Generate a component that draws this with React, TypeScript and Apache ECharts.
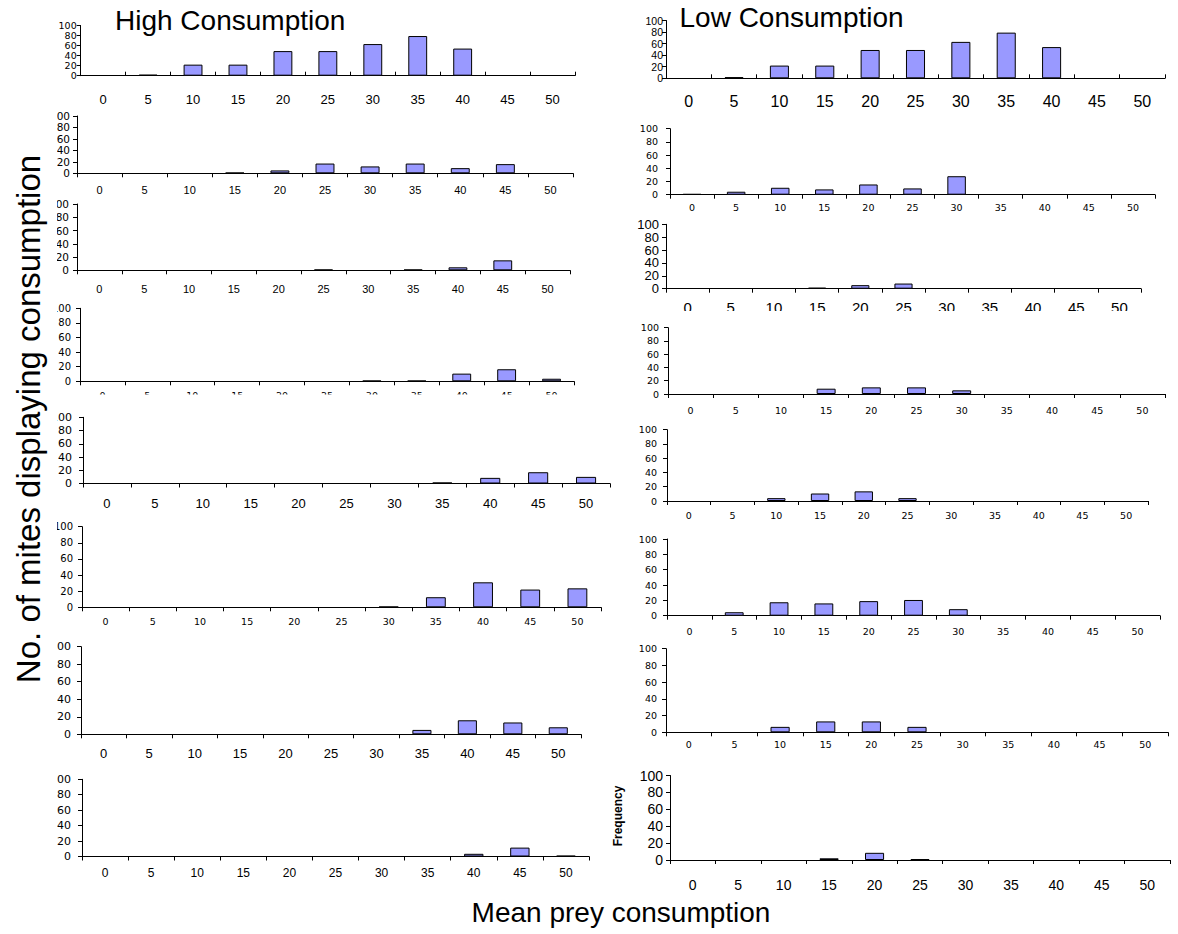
import React, { useEffect, useRef } from "react";
import * as echarts from "echarts";

// ---------- data ----------
const categories = ["0", "5", "10", "15", "20", "25", "30", "35", "40", "45", "50"];
const yTicks = { min: 0, max: 100, step: 20 };

const highC1 = [0, 2, 22, 22, 49, 49, 63, 79, 54, 0, 0];
const highC2 = [0, 0, 0, 1, 5, 17, 12, 17, 9, 16, 0];
const highC3 = [0, 0, 0, 0, 0, 1, 0, 1, 4.5, 15, 0];
const highC4 = [0, 0, 0, 0, 0, 0, 0.8, 0.8, 10.5, 16.5, 3.5];
const highC5 = [0, 0, 0, 0, 0, 0, 0, 1.5, 8.5, 17, 10];
const highC6 = [0, 0, 0, 0, 0, 0, 0.8, 12.5, 31, 22, 23.5];
const highC7 = [0, 0, 0, 0, 0, 0, 0, 5, 16, 13.5, 8];
const highC8 = [0, 0, 0, 0, 0, 0, 0, 0, 3.5, 11.5, 1];

const lowC1 = [0, 2, 22, 22, 49, 49, 63, 79, 54, 0, 0];
const lowC2 = [1, 4.5, 10.5, 8, 15.5, 9.5, 28, 0, 0, 0, 0];
const lowC3 = [0, 0, 0, 1.5, 5.5, 8, 0, 0, 0, 0, 0];
const lowC4 = [0, 0, 0, 8, 10, 10, 5.5, 0, 0, 0, 0];
const lowC5 = [0, 0, 4, 10.5, 13.5, 4, 0, 0, 0, 0, 0];
const lowC6 = [0, 4.5, 17.5, 16, 19, 20.5, 8.5, 0, 0, 0, 0];
const lowC7 = [0, 0, 6.5, 13, 13, 6.5, 0, 0, 0, 0, 0];
const lowC8 = [0, 0, 0, 2, 8.5, 1, 0, 0, 0, 0, 0];

const titleHigh = "High Consumption";
const titleLow = "Low Consumption";
const yTitle = "No. of mites displaying consumption";
const xTitle = "Mean prey consumption";
const freqLabel = "Frequency";

// ---------- styles / layout ----------
const ARIAL = "'Liberation Sans', Arial, Helvetica, sans-serif";
const NARROW = "'Liberation Sans Narrow', 'Arial Narrow', 'Liberation Sans', sans-serif";
const WIDE = "'DejaVu Sans', Verdana, sans-serif";

type Lab = { f: string; s: number; m: number; lh?: number };
type Panel = {
  data: number[];
  x0: number; x1: number; y0: number; y1: number;
  tickIn: boolean; yl: Lab; xl: Lab;
};

const panels: Panel[] = [
  { data: highC1, x0: 80.7, x1: 575, y0: 25.5, y1: 75.7, tickIn: true, yl: { f: WIDE, s: 9.5, m: 4, lh: 9.5 }, xl: { f: ARIAL, s: 13, m: 17 } },
  { data: highC2, x0: 77, x1: 573, y0: 116, y1: 173.3, tickIn: false, yl: { f: WIDE, s: 10.5, m: 7 }, xl: { f: ARIAL, s: 11, m: 11 } },
  { data: highC3, x0: 77, x1: 570, y0: 204, y1: 270.3, tickIn: false, yl: { f: WIDE, s: 10.5, m: 8 }, xl: { f: ARIAL, s: 11, m: 13 } },
  { data: highC4, x0: 80, x1: 574, y0: 308.3, y1: 381.3, tickIn: false, yl: { f: WIDE, s: 10, m: 9 }, xl: { f: WIDE, s: 9.5, m: 9 } },
  { data: highC5, x0: 83, x1: 610, y0: 417.3, y1: 483.5, tickIn: false, yl: { f: WIDE, s: 11, m: 11 }, xl: { f: ARIAL, s: 13, m: 13 } },
  { data: highC6, x0: 82, x1: 601, y0: 526.7, y1: 607.3, tickIn: false, yl: { f: WIDE, s: 10, m: 9 }, xl: { f: WIDE, s: 9.5, m: 9.5 } },
  { data: highC7, x0: 81, x1: 581, y0: 646.7, y1: 734.3, tickIn: false, yl: { f: WIDE, s: 11, m: 10 }, xl: { f: ARIAL, s: 13, m: 12.5 } },
  { data: highC8, x0: 82, x1: 589, y0: 779.3, y1: 856.5, tickIn: false, yl: { f: WIDE, s: 11, m: 11 }, xl: { f: ARIAL, s: 12, m: 10 } },
  { data: lowC1, x0: 666, x1: 1165, y0: 20.5, y1: 78.3, tickIn: true, yl: { f: NARROW, s: 10.5, m: 3, lh: 10.5 }, xl: { f: NARROW, s: 16, m: 15 } },
  { data: lowC2, x0: 670, x1: 1155, y0: 128.7, y1: 194.7, tickIn: false, yl: { f: WIDE, s: 9.5, m: 12 }, xl: { f: WIDE, s: 9.5, m: 8 } },
  { data: lowC3, x0: 666, x1: 1141, y0: 224.3, y1: 288.7, tickIn: false, yl: { f: NARROW, s: 13, m: 7 }, xl: { f: NARROW, s: 15, m: 11 } },
  { data: lowC4, x0: 668, x1: 1165, y0: 327.7, y1: 394, tickIn: false, yl: { f: WIDE, s: 9.5, m: 9 }, xl: { f: WIDE, s: 9.5, m: 11 } },
  { data: lowC5, x0: 667, x1: 1148, y0: 429.7, y1: 501, tickIn: false, yl: { f: WIDE, s: 9.5, m: 10 }, xl: { f: WIDE, s: 9.5, m: 9.5 } },
  { data: lowC6, x0: 667, x1: 1160, y0: 539, y1: 615.7, tickIn: false, yl: { f: WIDE, s: 9.5, m: 10 }, xl: { f: WIDE, s: 9.5, m: 10.5 } },
  { data: lowC7, x0: 666, x1: 1168, y0: 648.7, y1: 732.3, tickIn: false, yl: { f: WIDE, s: 9.5, m: 9 }, xl: { f: WIDE, s: 9.5, m: 7 } },
  { data: lowC8, x0: 670, x1: 1170, y0: 775.5, y1: 860, tickIn: false, yl: { f: ARIAL, s: 14, m: 7 }, xl: { f: ARIAL, s: 14, m: 18 } },
];

function buildOption() {
  const grid: any[] = [];
  const xAxis: any[] = [];
  const yAxis: any[] = [];
  const series: any[] = [];
  panels.forEach((p, i) => {
    grid.push({ left: p.x0, top: p.y0, width: p.x1 - p.x0, height: p.y1 - p.y0, containLabel: false });
    xAxis.push({
      type: "category",
      gridIndex: i,
      data: categories,
      boundaryGap: true,
      axisLine: { show: true, lineStyle: { color: "#000", width: 1 } },
      axisTick: { show: true, inside: p.tickIn, length: 4, interval: 0, alignWithLabel: false, lineStyle: { color: "#000" } },
      axisLabel: { interval: 0, margin: p.xl.m, fontFamily: p.xl.f, fontSize: p.xl.s, color: "#000" },
      splitLine: { show: false },
    });
    yAxis.push({
      type: "value",
      gridIndex: i,
      min: yTicks.min,
      max: yTicks.max,
      interval: yTicks.step,
      axisLine: { show: true, lineStyle: { color: "#000", width: 1 } },
      axisTick: { show: true, length: 4, lineStyle: { color: "#000" } },
      axisLabel: {
        margin: p.yl.m, fontFamily: p.yl.f, fontSize: p.yl.s, lineHeight: p.yl.lh ?? p.yl.s,
        color: "#000", hideOverlap: false, showMinLabel: true, showMaxLabel: true,
      },
      splitLine: { show: false },
    });
    series.push({
      type: "bar",
      xAxisIndex: i,
      yAxisIndex: i,
      // zero counts draw no bar at all
      data: p.data.map((v) => (v === 0 ? null : v)),
      barWidth: "42%",
      silent: true,
      itemStyle: { color: "#9999FF", borderColor: "#000", borderWidth: 1 },
    });
  });

  const graphic: any[] = [
    // white masks reproducing the clipping of the pasted panels
    { type: "rect", z: 50, shape: { x: 0, y: 0, width: 57, height: 900 }, style: { fill: "#fff" } },
    { type: "rect", z: 50, shape: { x: 60, y: 394.5, width: 545, height: 9 }, style: { fill: "#fff" } },
    { type: "rect", z: 50, shape: { x: 640, y: 311, width: 538, height: 9 }, style: { fill: "#fff" } },
    {
      type: "text", z: 60, x: 115, y: 20,
      style: { text: titleHigh, fontFamily: ARIAL, fontSize: 28, fill: "#000", textAlign: "left", textVerticalAlign: "middle" },
    },
    {
      type: "text", z: 60, x: 679.5, y: 17.5,
      style: { text: titleLow, fontFamily: ARIAL, fontSize: 28, fill: "#000", textAlign: "left", textVerticalAlign: "middle" },
    },
    {
      type: "text", z: 60, x: 28, y: 419, rotation: Math.PI / 2,
      style: { text: yTitle, fontFamily: ARIAL, fontSize: 33, fill: "#000", textAlign: "center", textVerticalAlign: "middle" },
    },
    {
      type: "text", z: 60, x: 621, y: 912,
      style: { text: xTitle, fontFamily: ARIAL, fontSize: 28, fill: "#000", textAlign: "center", textVerticalAlign: "middle" },
    },
    {
      type: "text", z: 60, x: 618, y: 816, rotation: Math.PI / 2,
      style: { text: freqLabel, fontFamily: ARIAL, fontSize: 12, fontWeight: "bold", fill: "#000", textAlign: "center", textVerticalAlign: "middle" },
    },
  ];

  return {
    animation: false,
    backgroundColor: "#fff",
    grid,
    xAxis,
    yAxis,
    series,
    graphic,
  };
}

export default function App() {
  const ref = useRef<HTMLDivElement>(null);
  useEffect(() => {
    if (!ref.current) return;
    const chart = echarts.init(ref.current, undefined, { renderer: "svg" });
    chart.setOption(buildOption() as any);
    return () => chart.dispose();
  }, []);
  return (
    <div
      ref={ref}
      style={{ position: "absolute", left: 0, top: 0, width: 1178, height: 934, background: "#fff" }}
    />
  );
}
